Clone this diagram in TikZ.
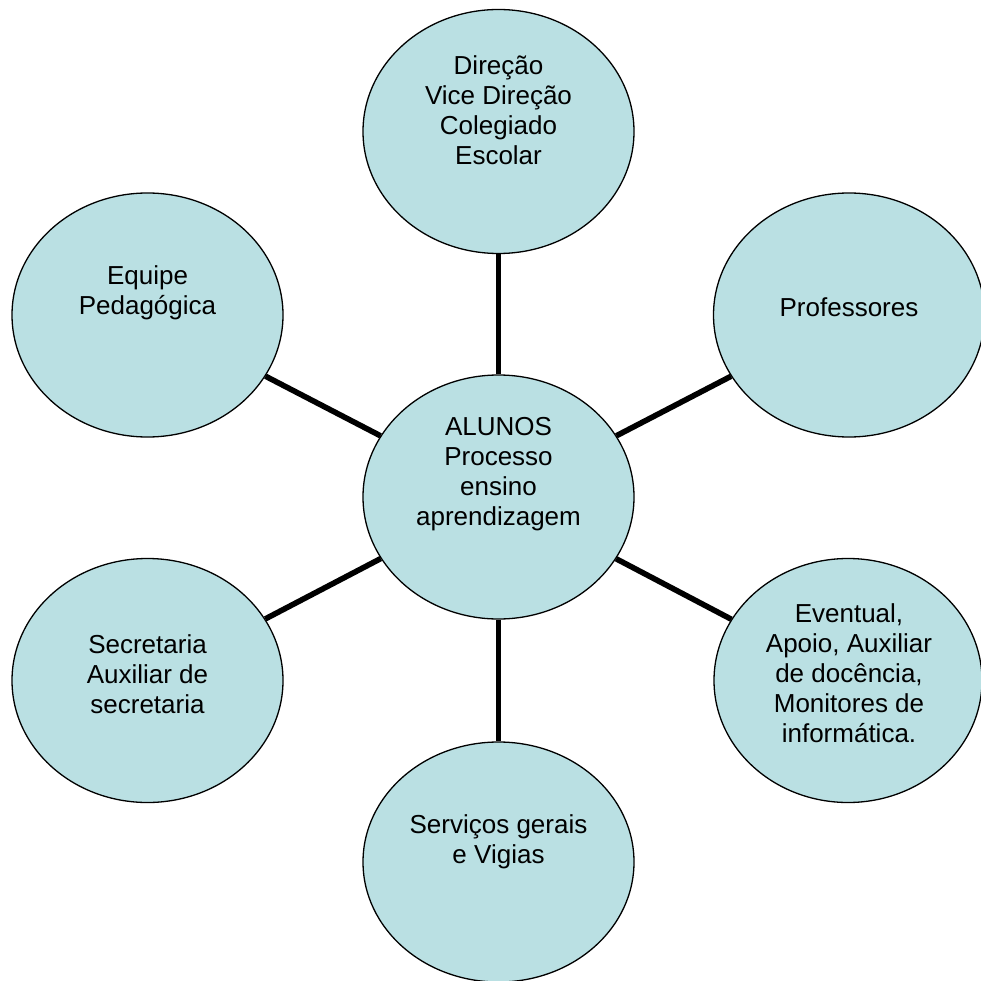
\documentclass[tikz,border=0pt]{standalone}
\usepackage{fontspec}
\setmainfont{Liberation Sans}
\usetikzlibrary{shapes.geometric,backgrounds}
\definecolor{bubblefill}{RGB}{186,224,227}
\begin{document}
\begin{tikzpicture}[x=1pt,y=-1pt]
    \tikzset{bubble/.style = {shape=ellipse,draw,line width=1.3pt,fill=bubblefill,minimum width=271pt,minimum height=244pt,inner sep=0pt}}
    \tikzset{bubbletext/.style = {align=center,font=\fontsize{26}{30}\selectfont}}
    \tikzset{edge/.style = {line width=5.6pt}}
    \useasboundingbox (0,0) rectangle (980,981);
    % the middle
    \node[bubble] (alunos) at (498.5,497) {};
    \node[bubbletext] (alunos-t) at (498.5,474.5) {ALUNOS\\Processo\\ensino\\aprendizagem};
    % top and bottom
    \node[bubble] (direcao) at (498.5,131.5) {};
    \node[bubbletext] (direcao-t) at (498.5,110) {Direção\\Vice Direção\\Colegiado\\Escolar};
    \node[bubble,minimum height=240pt] (servicos) at (498.5,862) {};
    \node[bubbletext] (servicos-t) at (498.5,841.5) {Serviços gerais\\e Vigias};
    % bubbles on the left
    \node[bubble] (equipe) at (147.5,315) {};
    \node[bubbletext] (equipe-t) at (147.5,292.5) {Equipe\\Pedagógica};
    \node[bubble] (secretaria) at (147.5,680.5) {};
    \node[bubbletext] (secretaria-t) at (147.5,674) {Secretaria\\Auxiliar de\\secretaria};
    % bubbles on the right
    \node[bubble] (professores) at (849,315) {};
    \node[bubbletext] (professores-t) at (849,307) {Professores};
    \node[bubble,minimum width=268pt] (eventual) at (848,680.5) {};
    \node[bubbletext] (eventual-t) at (849,673.5) {Eventual,\\Apoio, Auxiliar\\de docência,\\Monitores de\\informática.};
    % edges
    \begin{scope}[on background layer]
    \draw[edge] (alunos) to (direcao);
    \draw[edge] (alunos) to (servicos);
    \draw[edge] (alunos) to (equipe);
    \draw[edge] (alunos) to (secretaria);
    \draw[edge] (alunos) to (professores);
    \draw[edge] (alunos) to (eventual);
    \end{scope}
\end{tikzpicture}
\end{document}
